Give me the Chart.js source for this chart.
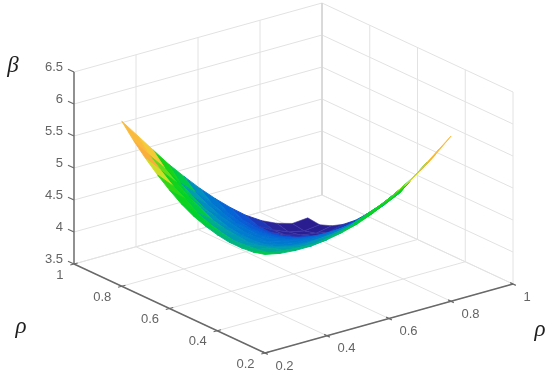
<!DOCTYPE html>
<html>
<head>
<meta charset="utf-8">
<title>Surface</title>
<script src="https://cdn.jsdelivr.net/npm/chart.js@4"></script>
<style>
    html, body { margin: 0; padding: 0; background: #fff; }
    #idChart { display: block; filter: blur(0.55px); }
</style>
</head>
<body>
<canvas id="idChart" width="550" height="375"></canvas>
<script>
// axis ticks
const aRhoXTicks = [0.2, 0.4, 0.6, 0.8, 1];
const aRhoYTicks = [0.2, 0.4, 0.6, 0.8, 1];
const aBetaTicks = [3.5, 4, 4.5, 5, 5.5, 6, 6.5];

// surface grid
const aRhoX = [0.2, 0.25, 0.3, 0.35, 0.4, 0.45, 0.5, 0.55, 0.6, 0.65, 0.7, 0.75, 0.8];
const aRhoY = [0.2, 0.25, 0.3, 0.35, 0.4, 0.45, 0.5, 0.55, 0.6, 0.65, 0.7, 0.75, 0.8];
const aBeta = [
    [5.04, 4.99, 4.97, 4.97, 5.00, 5.05, 5.12, 5.22, 5.35, 5.50, 5.67, 5.86, 6.08],
    [4.99, 4.91, 4.88, 4.86, 4.85, 4.89, 4.94, 5.02, 5.15, 5.26, 5.41, 5.57, 5.79],
    [4.97, 4.88, 4.83, 4.78, 4.75, 4.77, 4.79, 4.84, 4.94, 5.03, 5.16, 5.30, 5.50],
    [4.97, 4.86, 4.78, 4.70, 4.65, 4.63, 4.63, 4.66, 4.72, 4.78, 4.88, 5.00, 5.21],
    [5.00, 4.85, 4.75, 4.65, 4.58, 4.54, 4.52, 4.52, 4.56, 4.60, 4.68, 4.78, 4.95],
    [5.05, 4.89, 4.77, 4.63, 4.54, 4.48, 4.43, 4.40, 4.41, 4.42, 4.48, 4.56, 4.70],
    [5.12, 4.94, 4.79, 4.63, 4.52, 4.43, 4.35, 4.30, 4.27, 4.26, 4.29, 4.35, 4.47],
    [5.22, 5.02, 4.84, 4.66, 4.52, 4.40, 4.30, 4.22, 4.16, 4.13, 4.13, 4.16, 4.26],
    [5.35, 5.15, 4.94, 4.72, 4.56, 4.41, 4.27, 4.16, 4.07, 4.01, 3.98, 3.99, 4.07],
    [5.50, 5.26, 5.03, 4.78, 4.60, 4.42, 4.26, 4.13, 4.01, 3.92, 3.87, 3.86, 3.92],
    [5.67, 5.41, 5.16, 4.88, 4.68, 4.48, 4.29, 4.13, 3.98, 3.87, 3.80, 3.76, 3.81],
    [5.86, 5.57, 5.30, 5.00, 4.78, 4.56, 4.35, 4.16, 3.99, 3.86, 3.76, 3.71, 3.74],
    [6.08, 5.79, 5.50, 5.21, 4.95, 4.70, 4.47, 4.26, 4.07, 3.92, 3.81, 3.74, 3.76]
];

// colour stops of the surface, by beta
const aColorBeta = [3.7, 3.9, 4.02, 4.3, 4.6, 4.8, 4.92, 5.0, 5.1, 5.3, 5.42, 5.5, 5.6, 5.78, 5.9, 6.0];
const aColorRgb = [
    [42, 26, 140], [40, 40, 160], [20, 70, 205], [5, 100, 215], [0, 125, 205], [0, 150, 185], [0, 180, 130], [0, 205, 60],
    [0, 210, 40], [30, 212, 20], [170, 225, 30], [240, 220, 50], [250, 175, 60], [250, 170, 60], [250, 215, 60], [245, 240, 70]
];

const GRID = 'rgb(226, 226, 226)';
const GRID_BACK = 'rgb(208, 208, 208)';
const AXIS = 'rgb(105, 105, 105)';

// oblique view of the box, in the canvas units of the two hidden scales
function project(fX, fY, fZ) {
    var fA = (fX - 0.2) / 0.8;
    var fB = (fY - 0.2) / 0.8;
    return {
        x: 265 + 248 * fA - 191 * fB,
        y: 353 - 69 * fA - 89 * fB - 64 * (fZ - 3.5)
    };
}

function colorFor(fZ) {
    var n = aColorBeta.length;
    if (fZ <= aColorBeta[0]) return 'rgb(' + aColorRgb[0].join(',') + ')';
    for (var i = 1; i < n; i++) {
        if (fZ <= aColorBeta[i]) {
            var t = (fZ - aColorBeta[i - 1]) / (aColorBeta[i] - aColorBeta[i - 1]);
            var c = aColorRgb[i].map(function (v, k) {
                return Math.round(aColorRgb[i - 1][k] + (v - aColorRgb[i - 1][k]) * t);
            });
            return 'rgb(' + c.join(',') + ')';
        }
    }
    return 'rgb(' + aColorRgb[n - 1].join(',') + ')';
}

function lineSet(aPoints, sColor, fWidth) {
    return {
        data: aPoints,
        showLine: true,
        borderColor: sColor,
        borderWidth: fWidth,
        pointRadius: 0,
        tension: 0,
        fill: false
    };
}

function cellSet(i, j) {
    var aCorner = [[i, j], [i + 1, j], [i + 1, j + 1], [i, j + 1], [i, j]];
    var fSum = 0;
    var aPoints = aCorner.map(function (p) {
        return project(aRhoX[p[0]], aRhoY[p[1]], aBeta[p[0]][p[1]]);
    });
    for (var k = 0; k < 4; k++) fSum += aBeta[aCorner[k][0]][aCorner[k][1]];
    var sColor = colorFor(fSum / 4);
    return {
        data: aPoints,
        showLine: true,
        // the dark end of the mesh shows its wires in the picture
        borderColor: fSum / 4 < 3.95 ? 'rgb(62, 54, 165)' : sColor,
        backgroundColor: sColor,
        borderWidth: fSum / 4 < 3.95 ? 0.6 : 0.9,
        pointRadius: 0,
        tension: 0,
        fill: 'shape'
    };
}

// Chart.js paints the first dataset on top, so the list runs front to back
function buildDatasets() {
    var aSets = [];
    var fMinX = aRhoXTicks[0], fMaxX = aRhoXTicks[4];
    var fMinY = aRhoYTicks[0], fMaxY = aRhoYTicks[4];
    var fMinZ = aBetaTicks[0], fMaxZ = aBetaTicks[6];

    // box edges and tick marks
    aSets.push(lineSet([project(fMinX, fMaxY, fMinZ), project(fMinX, fMaxY, fMaxZ)], AXIS, 1.4));
    aSets.push(lineSet([project(fMinX, fMaxY, fMinZ), project(fMinX, fMinY, fMinZ)], AXIS, 1.4));
    aSets.push(lineSet([project(fMinX, fMinY, fMinZ), project(fMaxX, fMinY, fMinZ)], AXIS, 1.4));

    aBetaTicks.forEach(function (z) {
        aSets.push(lineSet([project(fMinX, fMaxY, z), project(fMinX, fMaxY + 0.025, z)], AXIS, 1.2));
    });
    aRhoYTicks.forEach(function (y) {
        aSets.push(lineSet([project(fMinX - 0.012, y, fMinZ), project(fMinX + 0.012, y, fMinZ)], AXIS, 1.2));
    });
    aRhoXTicks.forEach(function (x) {
        aSets.push(lineSet([project(x, fMinY - 0.012, fMinZ), project(x, fMinY + 0.012, fMinZ)], AXIS, 1.2));
    });

    // surface
    for (var i = 0; i < aRhoX.length - 1; i++) {
        for (var j = 0; j < aRhoY.length - 1; j++) {
            aSets.push(cellSet(i, j));
        }
    }

    // walls and floor
    aSets.push(lineSet([project(fMaxX, fMaxY, fMinZ), project(fMaxX, fMaxY, fMaxZ)], GRID_BACK, 1.2));
    aRhoXTicks.forEach(function (x) {
        aSets.push(lineSet([project(x, fMinY, fMinZ), project(x, fMaxY, fMinZ), project(x, fMaxY, fMaxZ)], GRID, 1));
    });
    aRhoYTicks.forEach(function (y) {
        aSets.push(lineSet([project(fMinX, y, fMinZ), project(fMaxX, y, fMinZ), project(fMaxX, y, fMaxZ)], GRID, 1));
    });
    aBetaTicks.forEach(function (z) {
        aSets.push(lineSet([project(fMinX, fMaxY, z), project(fMaxX, fMaxY, z), project(fMaxX, fMinY, z)], GRID, 1));
    });
    return aSets;
}

// tick labels and axis names, placed through the scales
const labelPlugin = {
    id: 'labelPlugin',
    afterDraw: function (oChart) {
        var oCtx = oChart.ctx;
        var oScaleX = oChart.scales.x;
        var oScaleY = oChart.scales.y;

        function put(sText, oPoint, fDx, fDy, sAlign) {
            oCtx.textAlign = sAlign;
            oCtx.fillText(sText, oScaleX.getPixelForValue(oPoint.x + fDx), oScaleY.getPixelForValue(oPoint.y + fDy));
        }

        oCtx.save();
        oCtx.textBaseline = 'middle';
        oCtx.fillStyle = 'rgb(100, 100, 100)';
        oCtx.font = '13px "Liberation Sans"';
        aBetaTicks.forEach(function (z) {
            put(String(z), project(0.2, 1, z), -11, -4.5, 'right');
        });
        aRhoYTicks.forEach(function (y) {
            put(String(y), project(0.2, y, 3.5), -10.5, 11, 'right');
        });
        aRhoXTicks.forEach(function (x) {
            put(String(x), project(x, 0.2, 3.5), 10.5, 13, 'left');
        });

        oCtx.fillStyle = 'rgb(30, 30, 30)';
        oCtx.font = 'italic 23px "Liberation Serif"';
        put('\u03B2', project(0.2, 1, 6.5), -61, -6, 'center');
        put('\u03C1', project(0.2, 1, 3.5), -53, 63, 'center');
        put('\u03C1', project(1, 0.2, 3.5), 27, 46, 'center');
        oCtx.restore();
    }
};

const config = {
    type: 'scatter',
    data: { datasets: buildDatasets() },
    plugins: [labelPlugin],
    options: {
        responsive: false,
        animation: false,
        layout: { padding: 0 },
        plugins: {
            legend: { display: false },
            tooltip: { enabled: false }
        },
        scales: {
            x: { display: false, type: 'linear', min: 0, max: 550 },
            y: { display: false, type: 'linear', min: 0, max: 375, reverse: true }
        }
    }
};

const oChart = new Chart(document.getElementById('idChart'), config);
</script>
</body>
</html>
